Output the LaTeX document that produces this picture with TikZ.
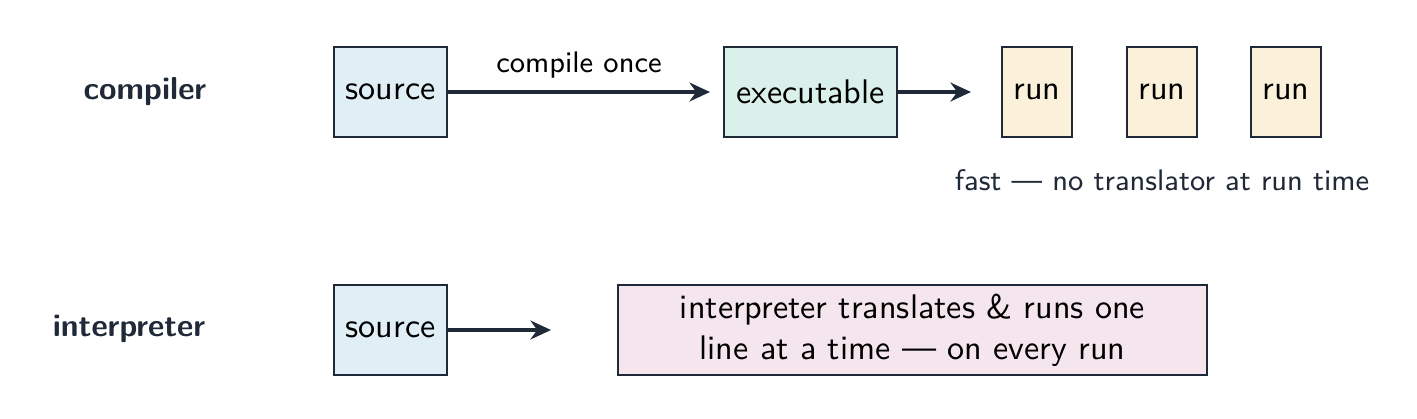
\documentclass[tikz,border=0pt]{standalone}
\usetikzlibrary{arrows.meta}
\definecolor{ink}{HTML}{1F2937}
\definecolor{srcfill}{HTML}{E0EEF5}
\definecolor{exefill}{HTML}{DAF0EA}
\definecolor{runfill}{HTML}{FBF0DA}
\definecolor{intfill}{HTML}{F5E6EE}
\begin{document}
\begin{tikzpicture}[x=0.293pt,y=-0.293pt,
  font=\sffamily, text=black,
  box/.style={draw=ink, line width=0.6pt, inner sep=0pt, anchor=center},
  conn/.style={draw=ink, line width=1.1pt, -{Stealth[length=6pt,width=5.5pt]}},
  rowlabel/.style={font=\sffamily\bfseries\fontsize{9.3}{11}\selectfont, text=ink},
  note/.style={font=\sffamily\fontsize{8.7}{10}\selectfont, text=ink}]
\useasboundingbox (0,0) rectangle (1417,418);
% compiler row
\node[rowlabel] (lc) at (145,92) {compiler};
\node[box, fill=srcfill, minimum width=113*0.293pt, minimum height=90*0.293pt] (src1) at (390.5,92) {source};
\node[box, fill=exefill, minimum width=173*0.293pt, minimum height=90*0.293pt] (exe) at (810.5,92) {executable};
\coordinate (e1) at (710,92);
\coordinate (e2) at (971,92);
\draw[conn] (src1.east) -- node[midway, yshift=27*0.293pt, font=\sffamily\fontsize{8.7}{10}\selectfont, text=black, inner sep=0pt] (co) {compile once} (e1);
\draw[conn] (exe.east) -- (e2);
\node[box, fill=runfill, minimum width=70*0.293pt, minimum height=90*0.293pt] (r1) at (1037,92) {run};
\node[box, fill=runfill, minimum width=70*0.293pt, minimum height=90*0.293pt] (r2) at (1162,92) {run};
\node[box, fill=runfill, minimum width=70*0.293pt, minimum height=90*0.293pt] (r3) at (1286,92) {run};
\node[note] (fast) at (1162,180) {fast --- no translator at run time};
% interpreter row
\node[rowlabel] (li) at (129,329) {interpreter};
\node[box, fill=srcfill, minimum width=113*0.293pt, minimum height=90*0.293pt] (src2) at (390.5,330) {source};
\coordinate (e3) at (551,330);
\draw[conn] (src2.east) -- (e3);
\node[box, fill=intfill, minimum width=589*0.293pt, minimum height=90*0.293pt, align=center] (interp) at (912.5,330) {interpreter translates \& runs one\\line at a time --- on every run};
\end{tikzpicture}
\end{document}
